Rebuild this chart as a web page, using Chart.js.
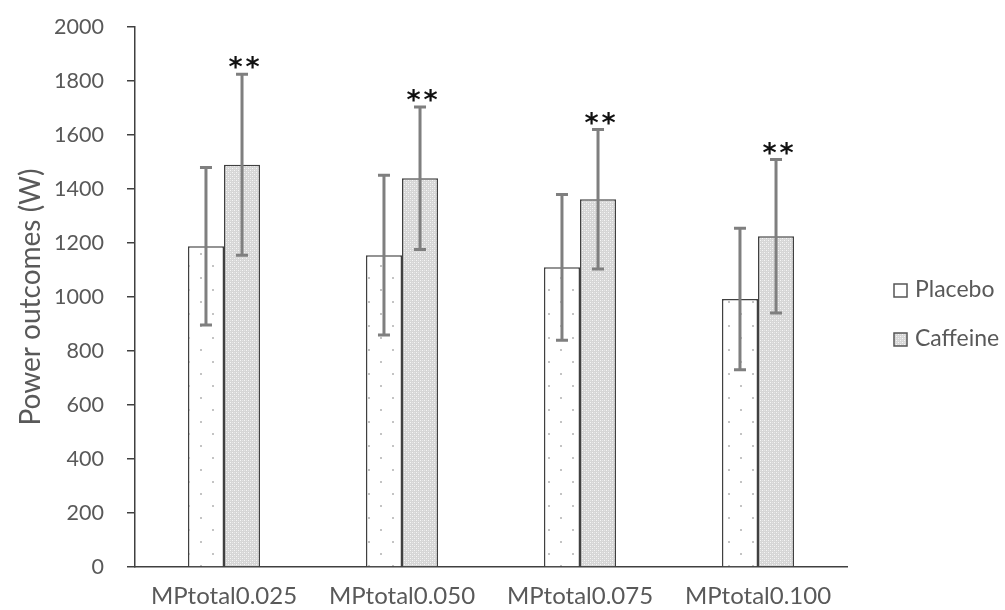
<!DOCTYPE html>
<html>
<head>
<meta charset="utf-8">
<script src="https://cdn.jsdelivr.net/npm/chart.js@4/dist/chart.umd.min.js"></script>
<style>
  html, body { margin: 0; padding: 0; background: #fff; }
  #wrap { width: 1005px; height: 610px; }
</style>
</head>
<body>
<div id="wrap"><canvas id="chart"></canvas></div>
<script>
// values
const categories = ['MPtotal0.025', 'MPtotal0.050', 'MPtotal0.075', 'MPtotal0.100'];
const placeboMean = [1188, 1155, 1110, 993];
const placeboSD = [292, 296, 270, 262];
const caffeineMean = [1490, 1440, 1362, 1225];
const caffeineSD = [335, 264, 258, 284];
const caffeineSig = ['**', '**', '**', '**'];
const yTicks = [0, 200, 400, 600, 800, 1000, 1200, 1400, 1600, 1800, 2000];

const textGrey = '#595959';
const edgeColor = '#404040';

// sparse dots for placebo
function makeDots() {
    const c = document.createElement('canvas');
    c.width = 24; c.height = 24;
    const g = c.getContext('2d');
    g.fillStyle = '#ffffff';
    g.fillRect(0, 0, 24, 24);
    g.fillStyle = '#c4c4c4';
    g.fillRect(8, 13, 2, 2);
    g.fillRect(20, 1, 2, 2);
    return g.createPattern(c, 'repeat');
}

// fine grey lattice for caffeine
function makeLattice() {
    const c = document.createElement('canvas');
    c.width = 4; c.height = 4;
    const g = c.getContext('2d');
    g.fillStyle = '#d6d6d6';
    g.fillRect(0, 0, 4, 4);
    g.fillStyle = '#f6f6f6';
    g.fillRect(0, 0, 1, 1);
    g.fillRect(2, 2, 1, 1);
    g.fillStyle = '#e4e4e4';
    g.fillRect(2, 0, 1, 1);
    g.fillRect(0, 2, 1, 1);
    return g.createPattern(c, 'repeat');
}

const placeboFill = makeDots();
const caffeineFill = makeLattice();

const errorBars = {
    id: 'errorBars',
    afterDatasetsDraw(chart) {
        const ctx = chart.ctx;
        const y = chart.scales.y;
        ctx.save();
        chart.data.datasets.forEach(function(ds, i) {
            const meta = chart.getDatasetMeta(i);
            meta.data.forEach(function(bar, j) {
                const top = y.getPixelForValue(ds.data[j] + ds.sd[j]);
                const bot = y.getPixelForValue(ds.data[j] - ds.sd[j]);
                ctx.strokeStyle = '#7f7f7f';
                ctx.lineWidth = 3;
                ctx.beginPath();
                ctx.moveTo(bar.x, top);
                ctx.lineTo(bar.x, bot);
                ctx.moveTo(bar.x - 6, top);
                ctx.lineTo(bar.x + 6, top);
                ctx.moveTo(bar.x - 6, bot);
                ctx.lineTo(bar.x + 6, bot);
                ctx.stroke();
                if (ds.sig) {
                    ctx.fillStyle = '#111';
                    ctx.font = 'bold 27px "DejaVu Sans"';
                    ctx.textAlign = 'center';
                    ctx.textBaseline = 'alphabetic';
                    const stars = ds.sig[j].split('');
                    stars.forEach(function(s, k) {
                        const off = (k - (stars.length - 1) / 2) * 17;
                        ctx.fillText(s, bar.x + 2 + off, top + 2);
                    });
                }
            });
        });
        ctx.restore();
    }
};

const sideLegend = {
    id: 'sideLegend',
    afterDraw(chart) {
        const ctx = chart.ctx;
        const rows = [290, 339];
        ctx.save();
        chart.data.datasets.forEach(function(ds, i) {
            const cy = rows[i];
            ctx.fillStyle = ds.backgroundColor;
            ctx.fillRect(894, cy - 6, 13, 13);
            ctx.strokeStyle = '#555';
            ctx.lineWidth = 1.5;
            ctx.strokeRect(894, cy - 6, 13, 13);
            ctx.fillStyle = textGrey;
            ctx.font = '23px Lato';
            ctx.textAlign = 'left';
            ctx.textBaseline = 'middle';
            ctx.fillText(ds.label, 915, cy);
        });
        ctx.restore();
    }
};

new Chart(document.getElementById('chart'), {
    type: 'bar',
    data: {
        labels: categories,
        datasets: [
            {
                label: 'Placebo',
                data: placeboMean,
                sd: placeboSD,
                backgroundColor: placeboFill,
                borderColor: edgeColor,
                borderWidth: 1.5
            },
            {
                label: 'Caffeine',
                data: caffeineMean,
                sd: caffeineSD,
                sig: caffeineSig,
                backgroundColor: caffeineFill,
                borderColor: edgeColor,
                borderWidth: 1.5
            }
        ]
    },
    options: {
        responsive: true,
        maintainAspectRatio: false,
        animation: false,
        categoryPercentage: 0.405,
        barPercentage: 1.0,
        layout: { padding: { top: 27, right: 158, left: 0, bottom: 0 } },
        plugins: {
            legend: { display: false },
            tooltip: { enabled: false }
        },
        scales: {
            x: {
                grid: { display: false, drawTicks: false },
                border: { display: true, color: edgeColor, width: 1.5 },
                ticks: { color: textGrey, font: { family: 'Lato', size: 24 }, padding: 15 },
                afterFit: function(scale) { scale.height = 43; }
            },
            y: {
                min: 0,
                max: 2000,
                afterBuildTicks: function(scale) {
                    scale.ticks = yTicks.map(v => ({ value: v }));
                },
                grid: { drawOnChartArea: false, drawTicks: true, tickLength: 8, color: edgeColor, lineWidth: 1.5 },
                border: { display: true, color: edgeColor, width: 1.5 },
                ticks: {
                    color: textGrey,
                    font: { family: 'Lato', size: 21.5 },
                    padding: 23,
                    callback: function(v) { return String(v); }
                },
                title: {
                    display: true,
                    text: 'Power outcomes (W)',
                    color: textGrey,
                    font: { family: 'Lato', size: 28 },
                    padding: { top: 14, bottom: 0 }
                },
                afterFit: function(scale) {
                    scale.width = 135;
                    scale.paddingTop = 0;
                    scale.paddingBottom = 0;
                }
            }
        }
    },
    plugins: [errorBars, sideLegend]
});
</script>
</body>
</html>
